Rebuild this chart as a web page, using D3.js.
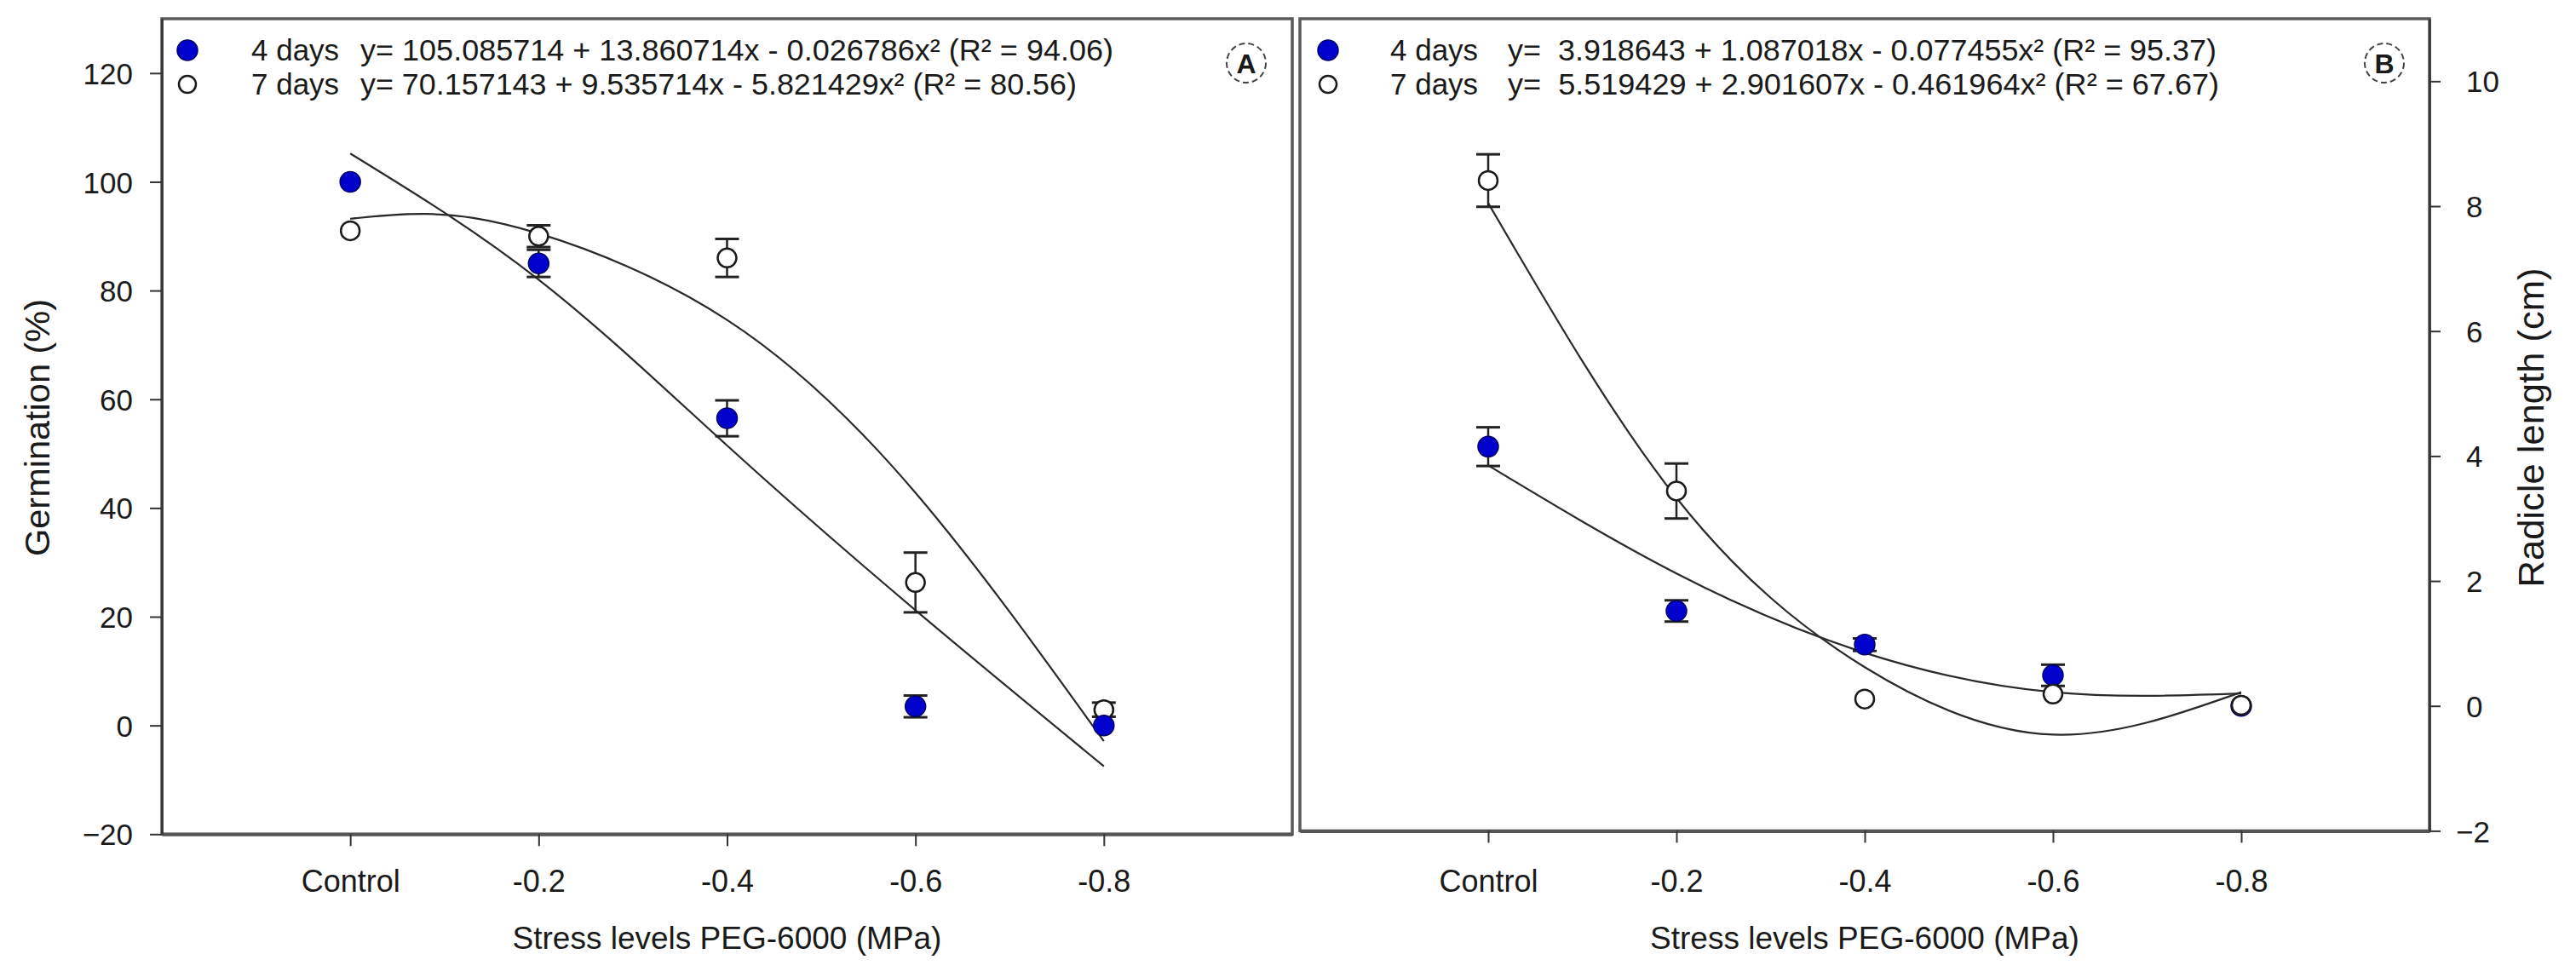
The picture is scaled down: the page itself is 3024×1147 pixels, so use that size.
<!DOCTYPE html>
<html><head><meta charset="utf-8">
<script src="https://cdn.jsdelivr.net/npm/d3@7"></script>
<style>
body{margin:0;background:#fff}
svg{display:block}
text{font-family:"Liberation Sans",Arial,sans-serif;fill:#1a1a1a}
</style>
</head><body>
<script>
// ---------- data ----------
const categories = ["Control", "-0.2", "-0.4", "-0.6", "-0.8"];
const germTicks = [-20, 0, 20, 40, 60, 80, 100, 120];
const radTicks = [-2, 0, 2, 4, 6, 8, 10];

const germ4 = [100, 85, 56.5, 3.5, 0];
const germ4Err = [0, 2.5, 3.3, 2.0, 0];
const germ7 = [91, 90, 86, 26.3, 2.9];
const germ7Err = [0, 2, 3.5, 5.5, 1.3];

const rad4 = [4.15, 1.52, 0.98, 0.49, 0];
const rad4Err = [0.31, 0.17, 0.1, 0.17, 0];
const rad7 = [8.41, 3.44, 0.11, 0.19, 0.01];
const rad7Err = [0.42, 0.44, 0, 0, 0];

// fitted curves at category positions (index 0..4)
const fitPos = [0, 1, 2, 3, 4];
const germFit4 = [105.2, 82, 51.5, 21.2, -7.5];
const germFit7Pos = [0, 0.4, 1, 2, 3, 4];
const germFit7 = [93.2, 94.1, 90.5, 74.6, 42.8, -2.9];
const radFit4 = [3.85, 2.12, 0.85, 0.22, 0.2];
const radFit7 = [8.05, 3.33, 0.62, -0.46, 0.22];

const legendLabels = ["4 days", "7 days"];
const germEq = ["y= 105.085714 + 13.860714x - 0.026786x² (R² = 94.06)",
                "y= 70.157143 + 9.535714x - 5.821429x² (R² = 80.56)"];
const radEq = ["y=  3.918643 + 1.087018x - 0.077455x² (R² = 95.37)",
               "y=  5.519429 + 2.901607x - 0.461964x² (R² = 67.67)"];

// ---------- drawing ----------
const W = 3024, H = 1147;
const svg = d3.select("body").append("svg").attr("width", W).attr("height", H);
svg.append("rect").attr("width", W).attr("height", H).attr("fill", "#fff");

const BLUE = "#0000cc";
const BLUE_STROKE = "#000066";

function panel(cfg) {
  const g = svg.append("g");
  const x = d3.scaleLinear().domain([-1, 5]).range([cfg.left, cfg.right]);
  const y = d3.scaleLinear().domain(cfg.yDomain).range([cfg.bottom, cfg.top]);

  // frame
  g.append("rect").attr("x", cfg.left).attr("y", cfg.top)
    .attr("width", cfg.right - cfg.left).attr("height", cfg.bottom - cfg.top)
    .attr("fill", "none").attr("stroke", "#5a5a5a").attr("stroke-width", 3.5);

  // x axis
  const xa = g.append("g").attr("transform", `translate(0,${cfg.bottom})`)
    .call(d3.axisBottom(x).tickValues(d3.range(categories.length))
      .tickFormat(i => categories[i]).tickSize(14).tickSizeOuter(0));
  xa.select(".domain").attr("stroke", "#555").attr("stroke-width", 4);
  xa.selectAll(".tick line").attr("stroke", "#333").attr("stroke-width", 2);
  xa.selectAll(".tick text").attr("y", 1047 - cfg.bottom).attr("dy", 0)
    .style("font-size", "36px").attr("fill", "#1a1a1a");

  // y axis
  let ya;
  if (cfg.side === "left") {
    ya = g.append("g").attr("transform", `translate(${cfg.left},0)`)
      .call(d3.axisLeft(y).tickValues(cfg.ticks).tickSize(14).tickPadding(20).tickSizeOuter(0));
    ya.selectAll(".tick text").style("font-size", "35px").attr("dy", "0.36em");
  } else {
    ya = g.append("g").attr("transform", `translate(${cfg.right},0)`)
      .call(d3.axisRight(y).tickValues(cfg.ticks).tickSize(13).tickSizeOuter(0));
    ya.selectAll(".tick text").style("font-size", "35px").attr("dy", "0.36em")
      .attr("x", d => d < 0 ? 31 : 43);
  }
  ya.select(".domain").attr("stroke", "#333").attr("stroke-width", 2.5);
  ya.selectAll(".tick line").attr("stroke", "#333").attr("stroke-width", 2);
  ya.selectAll(".tick text").attr("fill", "#1a1a1a");

  // fitted curves
  const line = d3.line().x(d => x(d[0])).y(d => y(d[1])).curve(d3.curveNatural);
  cfg.fits.forEach(f => {
    g.append("path").datum(f.pos.map((p, i) => [p, f.val[i]]))
      .attr("d", line).attr("fill", "none").attr("stroke", "#2a2a2a").attr("stroke-width", 2.2);
  });

  // series
  function drawSeries(vals, errs, filled) {
    const sg = g.append("g");
    vals.forEach((v, i) => {
      const e = errs[i];
      if (e > 0) {
        const cx = x(i);
        sg.append("line").attr("x1", cx).attr("x2", cx).attr("y1", y(v - e)).attr("y2", y(v + e))
          .attr("stroke", "#222").attr("stroke-width", 2.5);
        [v - e, v + e].forEach(yy => sg.append("line").attr("x1", cx - 14).attr("x2", cx + 14)
          .attr("y1", y(yy)).attr("y2", y(yy)).attr("stroke", "#222").attr("stroke-width", 3));
      }
    });
    sg.selectAll("circle").data(vals).join("circle")
      .attr("cx", (d, i) => x(i)).attr("cy", d => y(d))
      .attr("r", filled ? 12 : 11)
      .attr("fill", filled ? BLUE : "#fff")
      .attr("stroke", filled ? BLUE_STROKE : "#1a1a1a")
      .attr("stroke-width", filled ? 1.5 : 2.5);
  }
  cfg.order.forEach(s => drawSeries(s.vals, s.errs, s.filled));

  // legend
  const lx = cfg.legendX;
  g.append("circle").attr("cx", lx).attr("cy", 59).attr("r", 12)
    .attr("fill", BLUE).attr("stroke", BLUE_STROKE).attr("stroke-width", 1.5);
  g.append("circle").attr("cx", lx).attr("cy", 99).attr("r", 10)
    .attr("fill", "#fff").attr("stroke", "#1a1a1a").attr("stroke-width", 2.5);
  [71, 111].forEach((by, i) => {
    g.append("text").attr("x", cfg.labelX).attr("y", by).style("font-size", "35px").text(legendLabels[i]);
    g.append("text").attr("x", cfg.eqX).attr("y", by).style("font-size", "35px")
      .attr("textLength", cfg.eqLen[i]).attr("lengthAdjust", "spacingAndGlyphs")
      .attr("xml:space", "preserve").style("white-space", "pre").text(cfg.eqs[i]);
  });

  // panel letter
  g.append("circle").attr("cx", cfg.letterX).attr("cy", 74).attr("r", 23)
    .attr("fill", "none").attr("stroke", "#444").attr("stroke-width", 2).attr("stroke-dasharray", "7,4");
  g.append("text").attr("x", cfg.letterX).attr("y", 86).attr("text-anchor", "middle")
    .style("font-size", "32px").style("font-weight", "bold").text(cfg.letter);

  // x title
  g.append("text").attr("x", (cfg.left + cfg.right) / 2).attr("y", 1114).attr("text-anchor", "middle")
    .style("font-size", "37px").text("Stress levels PEG-6000 (MPa)");

  // y title
  g.append("text").attr("transform", `translate(${cfg.yTitleX},${cfg.yTitleY}) rotate(-90)`)
    .attr("text-anchor", "middle").style("font-size", cfg.yTitleSize)
    .attr("textLength", cfg.yTitleLen).attr("lengthAdjust", "spacingAndGlyphs")
    .text(cfg.yTitle);
}

panel({
  left: 190, right: 1517, top: 22, bottom: 979.3,
  yDomain: [-20, 130], ticks: germTicks, side: "left",
  fits: [{pos: fitPos, val: germFit4}, {pos: germFit7Pos, val: germFit7}],
  order: [{vals: germ7, errs: germ7Err, filled: false}, {vals: germ4, errs: germ4Err, filled: true}],
  legendX: 220, labelX: 295, eqX: 423, eqs: germEq, eqLen: [884, 841],
  letterX: 1463, letter: "A",
  yTitle: "Germination (%)", yTitleX: 58, yTitleY: 502, yTitleSize: "41px", yTitleLen: 302
});

panel({
  left: 1526, right: 2852, top: 22, bottom: 975.4,
  yDomain: [-2, 11], ticks: radTicks, side: "right",
  fits: [{pos: fitPos, val: radFit4}, {pos: fitPos, val: radFit7}],
  order: [{vals: rad4, errs: rad4Err, filled: true}, {vals: rad7, errs: rad7Err, filled: false}],
  legendX: 1559, labelX: 1632, eqX: 1770, eqs: radEq, eqLen: [832, 835],
  letterX: 2799, letter: "B",
  yTitle: "Radicle length (cm)", yTitleX: 2986, yTitleY: 502, yTitleSize: "42px", yTitleLen: 375
});
</script>
</body></html>
